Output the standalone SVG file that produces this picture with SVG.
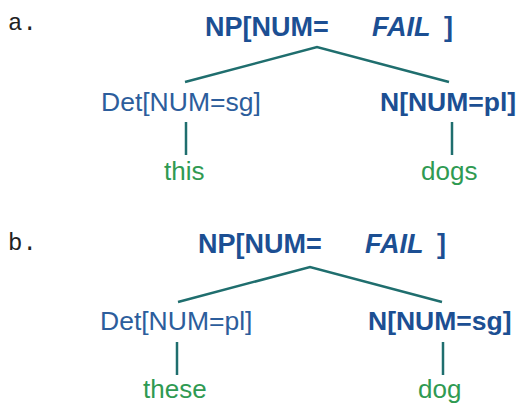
<svg xmlns="http://www.w3.org/2000/svg" width="521" height="406" viewBox="0 0 521 406">
<style>
.lbl{font-family:"Liberation Mono",monospace;font-size:24px;fill:#222}
.np{font-family:"Liberation Sans",Arial,sans-serif;font-size:27px;font-weight:bold;fill:#1c4f93}
.it{font-style:italic}
.cat{font-family:"Liberation Sans",Arial,sans-serif;font-size:26.5px;fill:#2c5d9c}
.catb{font-family:"Liberation Sans",Arial,sans-serif;font-size:26.5px;font-weight:bold;fill:#1c4f93}
.word{font-family:"Liberation Sans",Arial,sans-serif;font-size:26px;fill:#2f9a52}
.edge{fill:none;stroke:#1f6e6e;stroke-width:2.5}
</style>
<rect width="521" height="406" fill="#fff"/>
<text class="lbl" x="8" y="30">a.</text>
<text class="lbl" x="8" y="250">b.</text>
<g id="connectors">
<polyline class="edge" points="185,82 317,47 449,82"/>
<line class="edge" x1="186" y1="122" x2="186" y2="155"/>
<line class="edge" x1="452" y1="122" x2="452" y2="155"/>
<polyline class="edge" points="178,302 310,267 442,302"/>
<line class="edge" x1="177" y1="342" x2="177" y2="375"/>
<line class="edge" x1="443" y1="342" x2="443" y2="375"/>
</g>
<g id="a-np"><text class="np" x="205" y="36">NP[NUM=<tspan class="it" x="372">FAIL</tspan><tspan x="444">]</tspan></text></g>
<g id="a-det"><text class="cat" x="101" y="111">Det[NUM=sg]</text></g>
<g id="a-n"><text class="catb" x="380" y="111">N[NUM=pl]</text></g>
<g id="a-this"><text class="word" x="164" y="180">this</text></g>
<g id="a-dogs"><text class="word" x="421" y="180">dogs</text></g>
<g id="b-np"><text class="np" x="198" y="253">NP[NUM=<tspan class="it" x="365">FAIL</tspan><tspan x="437">]</tspan></text></g>
<g id="b-det"><text class="cat" x="100" y="330">Det[NUM=pl]</text></g>
<g id="b-n"><text class="catb" x="368" y="330">N[NUM=sg]</text></g>
<g id="b-these"><text class="word" x="143" y="398">these</text></g>
<g id="b-dog"><text class="word" x="418" y="398">dog</text></g>
</svg>
